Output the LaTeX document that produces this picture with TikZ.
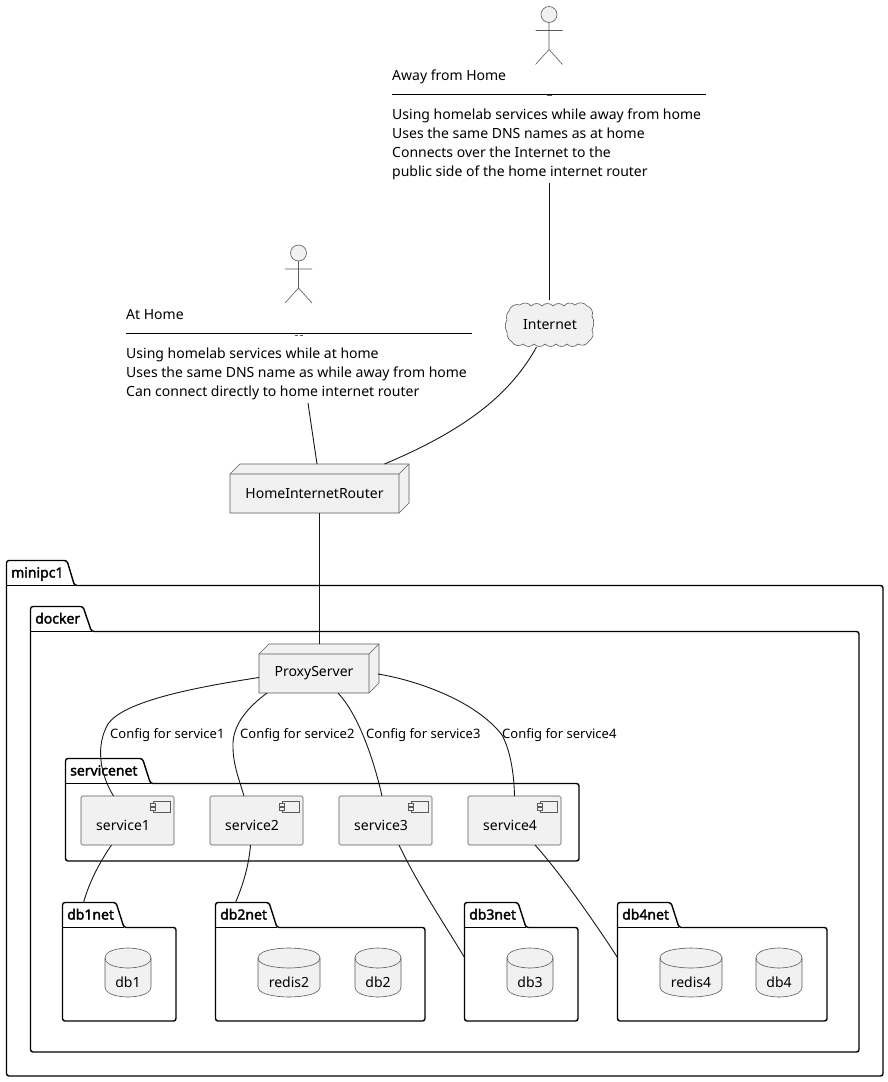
\documentclass[tikz,border=0pt]{standalone}
\usepackage{fontspec}
\setmainfont{Noto Sans}
\newfontfamily\pkgfont{Noto Sans}[FakeBold=2.2]
\usetikzlibrary{calc}
\definecolor{fillc}{HTML}{F1F1F1}
\definecolor{linec}{HTML}{181818}
\definecolor{edgec}{HTML}{5A5A5A}
\tikzset{
  conn/.style={draw=linec,line width=0.9pt},
  elem/.style={draw=edgec,line width=0.6pt,fill=fillc},
  pkgline/.style={draw=black,line width=1.4pt,rounded corners=2.5pt},
  pkgname/.style={anchor=base west,inner sep=0pt,font=\fontsize{14}{17}\pkgfont\selectfont},
  pkgbody/.style={inner sep=0pt,outer sep=0pt},
  label/.style={anchor=base west,inner sep=0pt,font=\fontsize{14}{19}\selectfont},
  edgelabel/.style={anchor=base west,inner sep=0pt,font=\fontsize{13}{16}\selectfont},
  notetext/.style={anchor=north west,inner sep=0pt,align=left,font=\fontsize{14}{19}\selectfont},
  stick/.style={draw=edgec,line width=0.6pt},
  sep/.style={draw=black,line width=0.9pt},
  boxnode/.style={inner sep=0pt,outer sep=0pt,font=\fontsize{14}{17}\selectfont},
}
% name, label, x0, ytop, tab right top, tab right bottom, yline, x1, y1
\newcommand{\pkgdraw}[9]{%
  \draw[pkgline] (#3,#7) -- (#3,#4) -- (#5,#4) -- (#6,#7) -- (#8,#7) -- (#8,#9) -- (#3,#9) -- cycle;
  \draw[pkgline,rounded corners=0pt,line width=1.2pt] (#3,#7) -- (#6,#7);
  \node[pkgbody,minimum width={(#8-#3)*1pt},minimum height={(#9-#7)*1pt}] (#1) at ({(#3+#8)/2},{(#7+#9)/2}) {};
  \node[pkgname] (#1label) at (#3+4.5,#4+17) {#2};
}
% name, text, x0, x1, y0, y1, text centre y
\newcommand{\dbdraw}[7]{%
  \pgfmathsetmacro{\xc}{(#3+#4)/2}%
  \path[elem] (#3,#5+10) .. controls (#3,#5) and (\xc,#5) .. (\xc,#5) .. controls (\xc,#5) and (#4,#5) .. (#4,#5+10)
     -- (#4,#6-10) .. controls (#4,#6) and (\xc,#6) .. (\xc,#6) .. controls (\xc,#6) and (#3,#6) .. (#3,#6-10) -- cycle;
  \path[draw=edgec,line width=0.6pt] (#3,#5+10) .. controls (#3,#5+20) and (\xc,#5+20) .. (\xc,#5+20) .. controls (\xc,#5+20) and (#4,#5+20) .. (#4,#5+10);
  \node[boxnode] (#1) at (\xc,#7) {#2};
}
% name, text, x0, x1, y0, y1 (front face)
\newcommand{\threeD}[6]{%
  \path[elem] (#3,#5) -- (#3+10,#5-10) -- (#4+10,#5-10) -- (#4+10,#6-10) -- (#4,#6) -- (#3,#6) -- cycle;
  \path[draw=edgec,line width=0.6pt] (#3,#5) -- (#4,#5) -- (#4+10,#5-10) (#4,#5) -- (#4,#6);
  \node[boxnode,minimum width={(#4-#3)*1pt},minimum height={(#6-#5)*1pt}] (#1) at ({(#3+#4)/2},{(#5+#6)/2}) {#2};
}
% name, text, x0
\newcommand{\comp}[3]{%
  \node[elem,rounded corners=1.5pt,inner sep=0pt,outer sep=0pt,minimum width=93pt,minimum height=49pt] (#1) at (#3+46.5,820.5) {};
  \node[label] (#1text) at (#3+15,830.5) {#2};
  \path[elem] (#3+72,801) rectangle (#3+89,812);
  \path[elem] (#3+69,803) rectangle (#3+74,806);
  \path[elem] (#3+69,807) rectangle (#3+74,810);
}
% centre x, head y
\newcommand{\stickman}[2]{%
  \path[stick,fill=fillc] (#1,#2) circle[radius=8pt];
  \path[stick] (#1,#2+8) -- (#1,#2+35) (#1-13.5,#2+16) -- (#1+13.5,#2+16)
     (#1-13.5,#2+50) -- (#1,#2+35) -- (#1+13.5,#2+50);
}
\begin{document}
\begin{tikzpicture}[x=1pt,y=-1pt]
\useasboundingbox (0,0) rectangle (888,1082);
\fill[white] (0,0) rectangle (888,1082);

% packages
\pkgdraw{minipc1}{minipc1}{6.5}{560.5}{67}{74.5}{585.5}{883}{1076}
\pkgdraw{docker}{docker}{30.5}{606.5}{83}{91.5}{631.5}{859}{1052}
\pkgdraw{servicenet}{servicenet}{65.5}{758.5}{142.5}{150.5}{783.5}{579}{861}
\pkgdraw{dbonenet}{db1net}{62.5}{902.5}{116}{124}{927.5}{176}{1021}
\pkgdraw{dbtwonet}{db2net}{215.5}{902.5}{269}{277}{927.5}{425}{1021}
\pkgdraw{dbthreenet}{db3net}{464.5}{902.5}{518}{526}{927.5}{578}{1021}
\pkgdraw{dbfournet}{db4net}{617.5}{902.5}{671}{679}{927.5}{827}{1021}

% actors and their descriptions
\stickman{549}{14.5}
\node[label] (awaytitle) at (392,80) {Away from Home};
\draw[sep] (392,94.5) -- (706,94.5);
\draw[draw=black!65,line width=1.2pt] (546.5,95.5) -- (552,95.5);
\node[notetext] (awaytext) at (392,109) {Using homelab services while away from home\\Uses the same DNS names as at home\\Connects over the Internet to the\\public side of the home internet router};
\coordinate (awayend) at (549,183);

\stickman{298.5}{253}
\node[label] (hometitle) at (126,319) {At Home};
\draw[sep] (126,333.5) -- (472,333.5);
\draw[draw=black!65,line width=0.9pt] (294.5,335) -- (298,335) (299.5,335) -- (303,335);
\node[notetext] (hometext) at (126,348) {Using homelab services while at home\\Uses the same DNS name as while away from home\\Can connect directly to home internet router};
\coordinate (homeend) at (308,403);

% top-level elements
\path[elem] (509,311)
  to[bend left=50] (520,305) to[bend left=50] (531,306) to[bend left=50] (542,306)
  to[bend left=50] (553,306) to[bend left=50] (564,306) to[bend left=50] (575,305)
  to[bend left=50] (587,306) to[bend left=50] (592,316) to[bend left=25] (592,330)
  to[bend left=45] (589,341) to[bend left=50] (578,344) to[bend left=50] (567,344)
  to[bend left=50] (556,344) to[bend left=50] (545,344) to[bend left=50] (534,344)
  to[bend left=50] (523,344) to[bend left=50] (512,342) to[bend left=30] (507,332)
  to[bend left=30] (507,320) to[bend left=30] (509,311) -- cycle;
\node[boxnode,minimum width=90pt,minimum height=45pt] (internet) at (550,324.5) {Internet};
\threeD{router}{HomeInternetRouter}{230}{399}{474}{513}
\threeD{proxy}{ProxyServer}{259}{369}{654}{693}

% services
\comp{serviceone}{service1}{81}
\comp{servicetwo}{service2}{210}
\comp{servicethree}{service3}{339}
\comp{servicefour}{service4}{468}

% databases
\dbdraw{dbone}{db1}{105}{151}{948}{997}{982}
\dbdraw{redistwo}{redis2}{258}{320}{948}{997}{982}
\dbdraw{dbtwo}{db2}{355}{401}{948}{997}{982}
\dbdraw{dbthree}{db3}{507}{553}{948}{997}{982}
\dbdraw{redisfour}{redis4}{660}{722}{948}{997}{982}
\dbdraw{dbfour}{db4}{756}{802}{948}{997}{982}

% connectors
\draw[conn] (awayend) -- ($(awayend |- internet.north)+(0,-2)$);
\draw[conn] (homeend) -- ($(router.north)+(2.5,-10)$);
\draw[conn] ($(internet.south)+(-13.5,0)$) .. controls (510,395) and (465,430) .. ($(router.north)+(70,-10)$);
\draw[conn] ($(router.south)+(5,0)$) -- ($(proxy.north)+(5.5,-10)$);

\draw[conn] ($(proxy.west)+(0,4)$) .. controls (190,688) and (123,702) .. (108,724)
   .. controls (96,745) and (99,772) .. ($(serviceone.north)+(-14,0)$);
\draw[conn] ($(proxy.south west)+(8,0)$) .. controls (244,710) and (232,728) .. (233,747)
   .. controls (233,765) and (240,782) .. ($(servicetwo.north)+(-12.5,0)$);
\draw[conn] ($(proxy.south)+(24,0)$) .. controls (356,712) and (372,752) .. ($(servicethree.north)+(-3.5,0)$);
\draw[conn] ($(proxy.east)+(9,0.5)$) .. controls (415,680) and (475,700) .. (502,735)
   .. controls (510,750) and (514,772) .. (servicefour.north);

\draw[conn] ($(serviceone.south)+(-16,0)$) .. controls (100,862) and (90,880) .. ($(dbonenet.north west)+(21,-25)$);
\draw[conn] ($(servicetwo.south)+(-6,0)$) .. controls (249,865) and (243,885) .. ($(dbtwonet.north west)+(20,-25)$);
\draw[conn] ($(servicethree.south)+(13.5,0)$) .. controls (418,885) and (445,925) .. ($(dbthreenet.north west)+(0,30)$);
\draw[conn] ($(servicefour.south)+(20.5,0)$) .. controls (556,868) and (590,915) .. ($(dbfournet.north west)+(0,30)$);

% connector labels
\node[edgelabel] (cfgone) at (110,738) {Config for service1};
\node[edgelabel] (cfgtwo) at (240,738) {Config for service2};
\node[edgelabel] (cfgthree) at (366,738) {Config for service3};
\node[edgelabel] (cfgfour) at (502,738) {Config for service4};
\end{tikzpicture}
\end{document}
